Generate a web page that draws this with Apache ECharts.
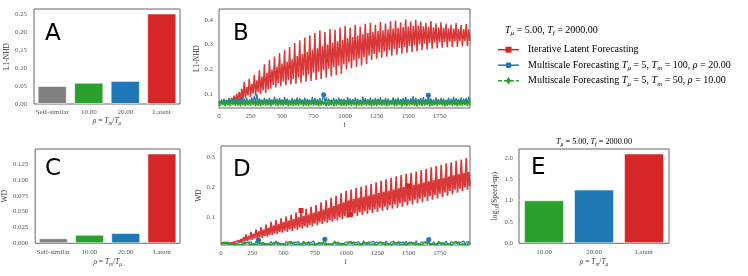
<!DOCTYPE html>
<html><head><meta charset="utf-8">
<script src="https://cdn.jsdelivr.net/npm/echarts@6/dist/echarts.min.js"></script>
<style>html,body{margin:0;padding:0;background:#fff}#c{width:748px;height:276px}</style>
</head><body><div id="c"></div>
<script>
// ---------- DATA ----------
const barCategoriesAC = ['Self-similar', '10.00', '20.00', 'Latent'];
const l1nhdBars = [0.050, 0.059, 0.064, 0.251];
const wdBars = [0.0079, 0.0135, 0.0162, 0.1418];
const barCategoriesE = ['10.00', '20.00', 'Latent'];
const speedupBars = [1.007, 1.256, 2.100];

const tickA = [0, 0.05, 0.10, 0.15, 0.20, 0.25];
const tickB = [0.1, 0.2, 0.3, 0.4];
const tickC = [0, 0.025, 0.050, 0.075, 0.100, 0.125];
const tickD = [0.1, 0.2, 0.3];
const tickE = [0, 0.5, 1.0, 1.5, 2.0];
const tickT = [0, 250, 500, 750, 1000, 1250, 1500, 1750];

const timeSteps = [
  0,10,20,30,40,50,60,70,80,90,100,110,120,130,140,150,160,170,180,190,
  200,210,220,230,240,250,260,270,280,290,300,310,320,330,340,350,360,370,380,390,
  400,410,420,430,440,450,460,470,480,490,500,510,520,530,540,550,560,570,580,590,
  600,610,620,630,640,650,660,670,680,690,700,710,720,730,740,750,760,770,780,790,
  800,810,820,830,840,850,860,870,880,890,900,910,920,930,940,950,960,970,980,990,
  1000,1010,1020,1030,1040,1050,1060,1070,1080,1090,1100,1110,1120,1130,1140,1150,1160,1170,1180,1190,
  1200,1210,1220,1230,1240,1250,1260,1270,1280,1290,1300,1310,1320,1330,1340,1350,1360,1370,1380,1390,
  1400,1410,1420,1430,1440,1450,1460,1470,1480,1490,1500,1510,1520,1530,1540,1550,1560,1570,1580,1590,
  1600,1610,1620,1630,1640,1650,1660,1670,1680,1690,1700,1710,1720,1730,1740,1750,1760,1770,1780,1790,
  1800,1810,1820,1830,1840,1850,1860,1870,1880,1890,1900,1910,1920,1930,1940,1950,1960,1970,1980,1990
];

const latentL1 = [
  0.064,0.060,0.066,0.061,0.069,0.062,0.072,0.063,0.077,0.064,0.084,0.067,0.093,0.069,0.101,0.072,0.109,0.075,0.121,0.077,
  0.149,0.083,0.128,0.094,0.162,0.088,0.141,0.101,0.178,0.093,0.155,0.108,0.196,0.099,0.171,0.114,0.221,0.104,0.186,0.118,
  0.238,0.121,0.199,0.137,0.252,0.126,0.211,0.144,0.266,0.131,0.223,0.150,0.279,0.135,0.232,0.156,0.291,0.139,0.241,0.161,
  0.307,0.142,0.254,0.168,0.318,0.146,0.262,0.174,0.329,0.150,0.271,0.180,0.338,0.153,0.279,0.186,0.347,0.157,0.286,0.190,
  0.358,0.161,0.294,0.196,0.352,0.166,0.301,0.203,0.364,0.171,0.308,0.209,0.361,0.176,0.314,0.215,0.370,0.181,0.319,0.221,
  0.376,0.199,0.326,0.228,0.369,0.204,0.331,0.236,0.381,0.210,0.337,0.243,0.374,0.216,0.342,0.249,0.385,0.222,0.347,0.255,
  0.389,0.238,0.352,0.262,0.381,0.243,0.356,0.268,0.392,0.247,0.359,0.273,0.386,0.251,0.363,0.278,0.395,0.255,0.366,0.283,
  0.398,0.259,0.369,0.287,0.391,0.263,0.372,0.291,0.403,0.267,0.374,0.295,0.394,0.270,0.376,0.298,0.401,0.274,0.378,0.301,
  0.393,0.278,0.375,0.304,0.388,0.281,0.373,0.306,0.396,0.284,0.371,0.308,0.387,0.286,0.370,0.310,0.391,0.288,0.369,0.311,
  0.386,0.290,0.367,0.312,0.382,0.291,0.366,0.313,0.388,0.292,0.364,0.314,0.380,0.293,0.363,0.315,0.384,0.294,0.362,0.316
];
const ms100L1 = [
  0.072,0.061,0.078,0.063,0.081,0.060,0.076,0.065,0.083,0.062,0.079,0.064,0.085,0.061,0.077,0.066,0.082,0.063,0.088,0.062,
  0.080,0.064,0.084,0.061,0.078,0.065,0.086,0.062,0.091,0.064,0.101,0.063,0.082,0.066,0.077,0.061,0.084,0.064,0.079,0.062,
  0.085,0.065,0.078,0.061,0.089,0.064,0.080,0.062,0.083,0.066,0.077,0.063,0.087,0.061,0.081,0.065,0.076,0.062,0.084,0.064,
  0.079,0.063,0.086,0.061,0.082,0.065,0.078,0.062,0.085,0.064,0.080,0.066,0.077,0.061,0.088,0.063,0.083,0.065,0.079,0.062,
  0.084,0.064,0.078,0.097,0.063,0.086,0.065,0.081,0.062,0.077,0.066,0.083,0.061,0.079,0.064,0.085,0.062,0.080,0.065,0.079,
  0.078,0.063,0.087,0.061,0.082,0.064,0.079,0.066,0.085,0.062,0.080,0.065,0.077,0.061,0.089,0.063,0.083,0.066,0.078,0.062,
  0.085,0.064,0.079,0.061,0.084,0.065,0.080,0.062,0.087,0.063,0.078,0.066,0.083,0.061,0.081,0.064,0.076,0.062,0.086,0.065,
  0.080,0.063,0.085,0.061,0.079,0.066,0.083,0.062,0.088,0.064,0.077,0.061,0.082,0.065,0.091,0.062,0.084,0.063,0.079,0.066,
  0.083,0.061,0.087,0.064,0.080,0.062,0.095,0.065,0.082,0.063,0.078,0.061,0.086,0.066,0.079,0.062,0.084,0.064,0.081,0.063,
  0.077,0.065,0.085,0.062,0.080,0.064,0.088,0.061,0.083,0.066,0.079,0.063,0.086,0.062,0.081,0.065,0.084,0.061,0.089,0.064
];
const ms50L1 = [
  0.068,0.052,0.074,0.055,0.071,0.050,0.076,0.054,0.069,0.051,0.075,0.056,0.070,0.052,0.077,0.053,0.072,0.050,0.074,0.055,
  0.069,0.051,0.076,0.054,0.071,0.052,0.078,0.056,0.070,0.050,0.073,0.053,0.075,0.051,0.068,0.055,0.077,0.052,0.071,0.054,
  0.074,0.050,0.069,0.056,0.076,0.053,0.072,0.051,0.075,0.054,0.070,0.052,0.077,0.055,0.069,0.050,0.073,0.053,0.076,0.051,
  0.071,0.054,0.074,0.052,0.078,0.056,0.070,0.050,0.075,0.053,0.072,0.051,0.069,0.055,0.076,0.052,0.073,0.054,0.070,0.050,
  0.077,0.053,0.071,0.056,0.074,0.051,0.069,0.052,0.075,0.054,0.072,0.050,0.076,0.053,0.070,0.055,0.074,0.051,0.073,0.052,
  0.075,0.051,0.070,0.054,0.077,0.052,0.072,0.055,0.068,0.050,0.074,0.053,0.076,0.051,0.071,0.056,0.073,0.052,0.078,0.054,
  0.070,0.050,0.075,0.053,0.072,0.051,0.077,0.055,0.069,0.052,0.074,0.054,0.071,0.050,0.076,0.053,0.073,0.056,0.070,0.051,
  0.076,0.052,0.073,0.055,0.069,0.050,0.075,0.054,0.072,0.051,0.078,0.053,0.070,0.056,0.074,0.052,0.071,0.050,0.077,0.054,
  0.072,0.051,0.074,0.053,0.070,0.055,0.076,0.050,0.073,0.052,0.069,0.054,0.075,0.051,0.071,0.056,0.077,0.053,0.072,0.050,
  0.074,0.052,0.070,0.055,0.076,0.051,0.073,0.054,0.069,0.050,0.075,0.053,0.071,0.052,0.077,0.055,0.072,0.051,0.074,0.053
];

const latentWD = [
  0.013,0.012,0.014,0.012,0.015,0.013,0.014,0.013,0.016,0.013,0.018,0.014,0.020,0.015,0.024,0.017,0.029,0.019,0.035,0.021,
  0.044,0.023,0.039,0.027,0.053,0.026,0.047,0.031,0.060,0.029,0.054,0.035,0.069,0.033,0.060,0.039,0.077,0.037,0.066,0.043,
  0.086,0.042,0.074,0.048,0.092,0.046,0.079,0.053,0.098,0.050,0.085,0.057,0.104,0.053,0.090,0.061,0.110,0.056,0.095,0.064,
  0.117,0.060,0.101,0.068,0.124,0.064,0.106,0.072,0.130,0.067,0.111,0.076,0.136,0.071,0.116,0.080,0.142,0.075,0.121,0.084,
  0.151,0.079,0.127,0.088,0.158,0.083,0.133,0.092,0.166,0.087,0.139,0.096,0.173,0.091,0.145,0.101,0.181,0.095,0.151,0.105,
  0.190,0.099,0.158,0.110,0.194,0.103,0.162,0.114,0.199,0.106,0.166,0.118,0.203,0.109,0.170,0.122,0.208,0.113,0.174,0.126,
  0.213,0.116,0.178,0.129,0.218,0.119,0.182,0.133,0.223,0.123,0.186,0.137,0.228,0.126,0.190,0.141,0.233,0.130,0.194,0.144,
  0.238,0.133,0.198,0.148,0.242,0.137,0.202,0.152,0.246,0.141,0.206,0.156,0.250,0.144,0.210,0.160,0.254,0.148,0.213,0.163,
  0.259,0.152,0.217,0.168,0.263,0.156,0.221,0.172,0.268,0.160,0.225,0.176,0.272,0.164,0.229,0.180,0.276,0.168,0.233,0.184,
  0.281,0.173,0.237,0.189,0.285,0.178,0.241,0.193,0.290,0.183,0.245,0.197,0.294,0.188,0.249,0.201,0.299,0.193,0.253,0.205
];
const ms100WD = [
  0.016,0.012,0.018,0.013,0.019,0.012,0.017,0.014,0.020,0.013,0.018,0.014,0.017,0.012,0.019,0.013,0.021,0.014,0.018,0.012,
  0.019,0.013,0.017,0.014,0.020,0.012,0.018,0.013,0.022,0.014,0.026,0.013,0.019,0.012,0.017,0.014,0.020,0.013,0.018,0.012,
  0.021,0.014,0.018,0.013,0.023,0.012,0.017,0.014,0.019,0.013,0.018,0.012,0.020,0.014,0.017,0.013,0.021,0.012,0.019,0.014,
  0.018,0.013,0.020,0.012,0.017,0.014,0.021,0.013,0.018,0.012,0.019,0.014,0.017,0.013,0.022,0.012,0.018,0.014,0.020,0.013,
  0.019,0.012,0.017,0.028,0.014,0.020,0.013,0.018,0.012,0.017,0.014,0.022,0.013,0.019,0.012,0.018,0.014,0.020,0.013,0.017,
  0.019,0.014,0.018,0.013,0.021,0.012,0.019,0.014,0.017,0.013,0.020,0.012,0.018,0.014,0.023,0.013,0.017,0.012,0.019,0.014,
  0.018,0.013,0.021,0.012,0.019,0.014,0.017,0.013,0.020,0.012,0.018,0.014,0.022,0.013,0.017,0.012,0.019,0.014,0.021,0.013,
  0.018,0.012,0.020,0.014,0.017,0.013,0.019,0.012,0.021,0.014,0.018,0.013,0.020,0.012,0.017,0.014,0.023,0.013,0.019,0.012,
  0.019,0.014,0.018,0.013,0.020,0.012,0.027,0.014,0.018,0.013,0.020,0.012,0.017,0.014,0.021,0.013,0.019,0.012,0.018,0.014,
  0.022,0.013,0.018,0.012,0.020,0.014,0.017,0.013,0.021,0.012,0.019,0.014,0.018,0.013,0.022,0.012,0.019,0.014,0.020,0.013
];
const ms50WD = [
  0.015,0.011,0.017,0.012,0.016,0.010,0.018,0.011,0.015,0.012,0.017,0.010,0.016,0.012,0.018,0.011,0.015,0.010,0.017,0.012,
  0.016,0.011,0.018,0.010,0.015,0.012,0.017,0.011,0.016,0.010,0.018,0.012,0.015,0.011,0.017,0.010,0.016,0.012,0.018,0.011,
  0.015,0.010,0.017,0.012,0.016,0.011,0.018,0.010,0.015,0.012,0.017,0.011,0.016,0.010,0.018,0.012,0.015,0.011,0.017,0.010,
  0.016,0.012,0.018,0.011,0.015,0.010,0.017,0.012,0.016,0.011,0.018,0.010,0.015,0.012,0.017,0.011,0.016,0.010,0.018,0.012,
  0.015,0.011,0.017,0.010,0.016,0.012,0.018,0.011,0.015,0.010,0.017,0.012,0.016,0.011,0.018,0.010,0.015,0.012,0.017,0.011,
  0.016,0.010,0.018,0.012,0.015,0.011,0.017,0.010,0.016,0.012,0.018,0.011,0.015,0.010,0.017,0.012,0.016,0.011,0.018,0.010,
  0.015,0.012,0.017,0.011,0.016,0.010,0.018,0.012,0.015,0.011,0.017,0.010,0.016,0.012,0.018,0.011,0.015,0.010,0.017,0.012,
  0.016,0.011,0.018,0.010,0.015,0.012,0.017,0.011,0.016,0.010,0.018,0.012,0.015,0.011,0.017,0.010,0.016,0.012,0.018,0.011,
  0.015,0.010,0.017,0.012,0.016,0.011,0.018,0.010,0.015,0.012,0.017,0.011,0.016,0.010,0.018,0.012,0.015,0.011,0.017,0.010,
  0.016,0.012,0.018,0.011,0.015,0.010,0.017,0.012,0.016,0.011,0.018,0.010,0.015,0.012,0.017,0.011,0.016,0.010,0.018,0.012
];
// indices of sample points that carry a plotted marker
const markLatentWD = [64, 103, 150];
const markMs100L1 = [83, 166];
const markMs100WD = [30, 83, 166];

// ---------- STYLE ----------
const RED = '#d62728', BLUE = '#1f77b4', GREEN = '#2ca02c', GRAY = '#7f7f7f';
const barColorsAC = [GRAY, GREEN, BLUE, RED];
const barColorsE = [GREEN, BLUE, RED];
const SERIF = "'Liberation Serif','DejaVu Serif',serif";
const SANS = "'DejaVu Sans','Liberation Sans',sans-serif";
const TXT = '#3a3a3a', TICK = '#555';

function rich(fs, color) {
  return {
    n: {fontFamily: SERIF, fontSize: fs, lineHeight: fs + 3, verticalAlign: 'middle', color: color},
    i: {fontFamily: SERIF, fontStyle: 'italic', fontSize: fs, lineHeight: fs + 3, verticalAlign: 'middle', color: color},
    s: {fontFamily: SERIF, fontStyle: 'italic', fontSize: fs * 0.7, lineHeight: fs * 0.7, verticalAlign: 'bottom', color: color},
    u: {fontFamily: SERIF, fontSize: fs * 0.7, lineHeight: fs * 0.7, verticalAlign: 'bottom', color: color}
  };
}
const rhoLabel = '{i|ρ}{n| = }{i|T}{s|m}{n|/}{i|T}{s|μ}';

const grids = [
  {left: 34, top: 9, width: 146, height: 95},      // A
  {left: 219, top: 9, width: 251, height: 99},     // B
  {left: 34, top: 149, width: 146, height: 94.3},  // C
  {left: 221, top: 146, width: 249, height: 99},   // D
  {left: 519, top: 149, width: 150, height: 94.3}  // E
].map(g => Object.assign(g, {show: true, borderColor: '#666', borderWidth: 1, backgroundColor: 'transparent'}));

function tickLabel(values, fmt, margin) {
  return {customValues: values, formatter: fmt, fontFamily: SERIF, fontSize: 6.8, color: TICK, margin: margin};
}
function catX(idx, cats, name, gap) {
  return {type: 'category', gridIndex: idx, data: cats,
    axisLine: {show: false}, axisTick: {show: false},
    axisLabel: {fontFamily: SERIF, fontSize: 7, color: TICK, margin: 5, interval: 0},
    name: name, nameLocation: 'middle', nameGap: gap,
    nameTextStyle: {rich: rich(7.5, TXT)}};
}
function timeX(idx) {
  return {type: 'value', gridIndex: idx, min: 0, max: 1990,
    axisLine: {show: false}, axisTick: {show: false}, splitLine: {show: false},
    axisLabel: tickLabel(tickT, v => String(v), 5),
    name: '{i|t}', nameLocation: 'middle', nameGap: 12,
    nameTextStyle: {rich: rich(7.5, TXT)}};
}
function valY(idx, min, max, ticks, fmt, name, gap, margin) {
  return {type: 'value', gridIndex: idx, min: min, max: max,
    axisLine: {show: false}, axisTick: {show: false}, splitLine: {show: false},
    axisLabel: tickLabel(ticks, fmt, margin),
    name: name, nameLocation: 'middle', nameGap: gap,
    nameTextStyle: {rich: rich(7.5, TXT)}};
}

function barSeries(idx, values, colors, width) {
  return {type: 'bar', xAxisIndex: idx, yAxisIndex: idx, barWidth: width,
    data: values.map((v, i) => ({value: v, itemStyle: {color: colors[i]}})),
    itemStyle: {borderColor: 'rgba(255,255,255,0.55)', borderWidth: 1},
    silent: true};
}
function lineSeries(idx, values, color, opacity, width) {
  return {type: 'line', xAxisIndex: idx, yAxisIndex: idx, showSymbol: false, symbol: 'none',
    data: timeSteps.map((t, i) => [t, values[i]]),
    lineStyle: {color: color, width: width, opacity: opacity}, silent: true, animation: false};
}
function markerSeries(idx, values, marks, color, symbol, size) {
  return {type: 'scatter', xAxisIndex: idx, yAxisIndex: idx, symbol: symbol, symbolSize: size,
    data: marks.map(i => [timeSteps[i], values[i]]),
    itemStyle: {color: color, opacity: 1}, silent: true, animation: false};
}

// ---------- LEGEND (drawn as graphics) ----------
const legendX1 = 498, legendX2 = 519, legendTextX = 528;
const legendRows = [
  {y: 49.7, color: RED, text: '{n|Iterative Latent Forecasting}', mark: 'square', dash: false},
  {y: 65.2, color: BLUE, text: '{n|Multiscale Forecasting }{i|T}{s|μ}{n| = 5, }{i|T}{s|m}{n| = 100, }{i|ρ}{n| = 20.00}', mark: 'circle', dash: false},
  {y: 80.7, color: GREEN, text: '{n|Multiscale Forecasting }{i|T}{s|μ}{n| = 5, }{i|T}{s|m}{n| = 50, }{i|ρ}{n| = 10.00}', mark: 'diamond', dash: true}
];
const graphics = [];
legendRows.forEach(r => {
  graphics.push({type: 'line', shape: {x1: legendX1, y1: r.y, x2: legendX2, y2: r.y},
    style: {stroke: r.color, lineWidth: 1.5, lineDash: r.dash ? [4, 2] : null}});
  const cx = (legendX1 + legendX2) / 2;
  if (r.mark === 'square') graphics.push({type: 'rect', shape: {x: cx - 3, y: r.y - 3, width: 6, height: 6}, style: {fill: r.color}});
  if (r.mark === 'circle') graphics.push({type: 'circle', shape: {cx: cx, cy: r.y, r: 3}, style: {fill: r.color}});
  if (r.mark === 'diamond') graphics.push({type: 'polygon', shape: {points: [[cx, r.y - 3.8], [cx + 2.6, r.y], [cx, r.y + 3.8], [cx - 2.6, r.y]]}, style: {fill: r.color}});
  graphics.push({type: 'text', x: legendTextX, y: r.y,
    style: {text: r.text, rich: rich(10, TXT), align: 'left', verticalAlign: 'middle', textAlign: 'left', textVerticalAlign: 'middle'}});
});
graphics.push({type: 'text', x: 505, y: 30,
  style: {text: '{i|T}{s|μ}{n| = 5.00, }{i|T}{s|f}{n| = 2000.00}', rich: rich(10, TXT), align: 'left', verticalAlign: 'middle', textAlign: 'left', textVerticalAlign: 'middle'}});
graphics.push({type: 'text', x: 594, y: 142,
  style: {text: '{i|T}{s|μ}{n| = 5.00, }{i|T}{s|f}{n| = 2000.00}', rich: rich(8.2, TXT), align: 'center', verticalAlign: 'middle', textAlign: 'center', textVerticalAlign: 'middle'}});
// panel letters
[['A', 45, 34], ['B', 233, 34], ['C', 45, 169.5], ['D', 233, 170.5], ['E', 531, 168.5]].forEach(p => {
  graphics.push({type: 'text', x: p[1], y: p[2], z: 100,
    style: {text: p[0], fontFamily: SANS, fontSize: 23, fill: '#000', align: 'left', verticalAlign: 'middle', textAlign: 'left', textVerticalAlign: 'middle'}});
});

const option = {
  backgroundColor: '#fff',
  animation: false,
  grid: grids,
  xAxis: [
    catX(0, barCategoriesAC, rhoLabel, 12),
    timeX(1),
    catX(2, barCategoriesAC, rhoLabel, 13),
    timeX(3),
    catX(4, barCategoriesE, rhoLabel, 13)
  ],
  yAxis: [
    valY(0, 0, 0.2636, tickA, v => v.toFixed(2), '{n|L1-NHD}', 16, 7),
    valY(1, 0.043, 0.445, tickB, v => v.toFixed(1), '{n|L1-NHD}', 11, 6),
    valY(2, 0, 0.1489, tickC, v => v.toFixed(3), '{n|WD}', 19, 7),
    valY(3, 0.009, 0.339, tickD, v => v.toFixed(1), '{n|WD}', 11, 6),
    valY(4, 0, 2.205, tickE, v => v.toFixed(1), '{n|log}{u|10}{n|(Speed-up)}', 11.5, 6)
  ],
  series: [
    barSeries(0, l1nhdBars, barColorsAC, '80%'),
    lineSeries(1, latentL1, RED, 0.92, 1.5),
    lineSeries(1, ms100L1, BLUE, 1, 1.2),
    markerSeries(1, ms100L1, markMs100L1, BLUE, 'circle', 5),
    lineSeries(1, ms50L1, GREEN, 1, 1.5),
    barSeries(2, wdBars, barColorsAC, '80%'),
    lineSeries(3, latentWD, RED, 0.92, 1.7),
    markerSeries(3, latentWD, markLatentWD, RED, 'rect', 5),
    lineSeries(3, ms100WD, BLUE, 1, 1.2),
    markerSeries(3, ms100WD, markMs100WD, BLUE, 'circle', 5),
    lineSeries(3, ms50WD, GREEN, 1, 1.5),
    barSeries(4, speedupBars, barColorsE, '80%')
  ],
  graphic: graphics
};
const chart = echarts.init(document.getElementById('c'), null, {renderer: 'canvas'});
chart.setOption(option);
</script>
</body></html>
